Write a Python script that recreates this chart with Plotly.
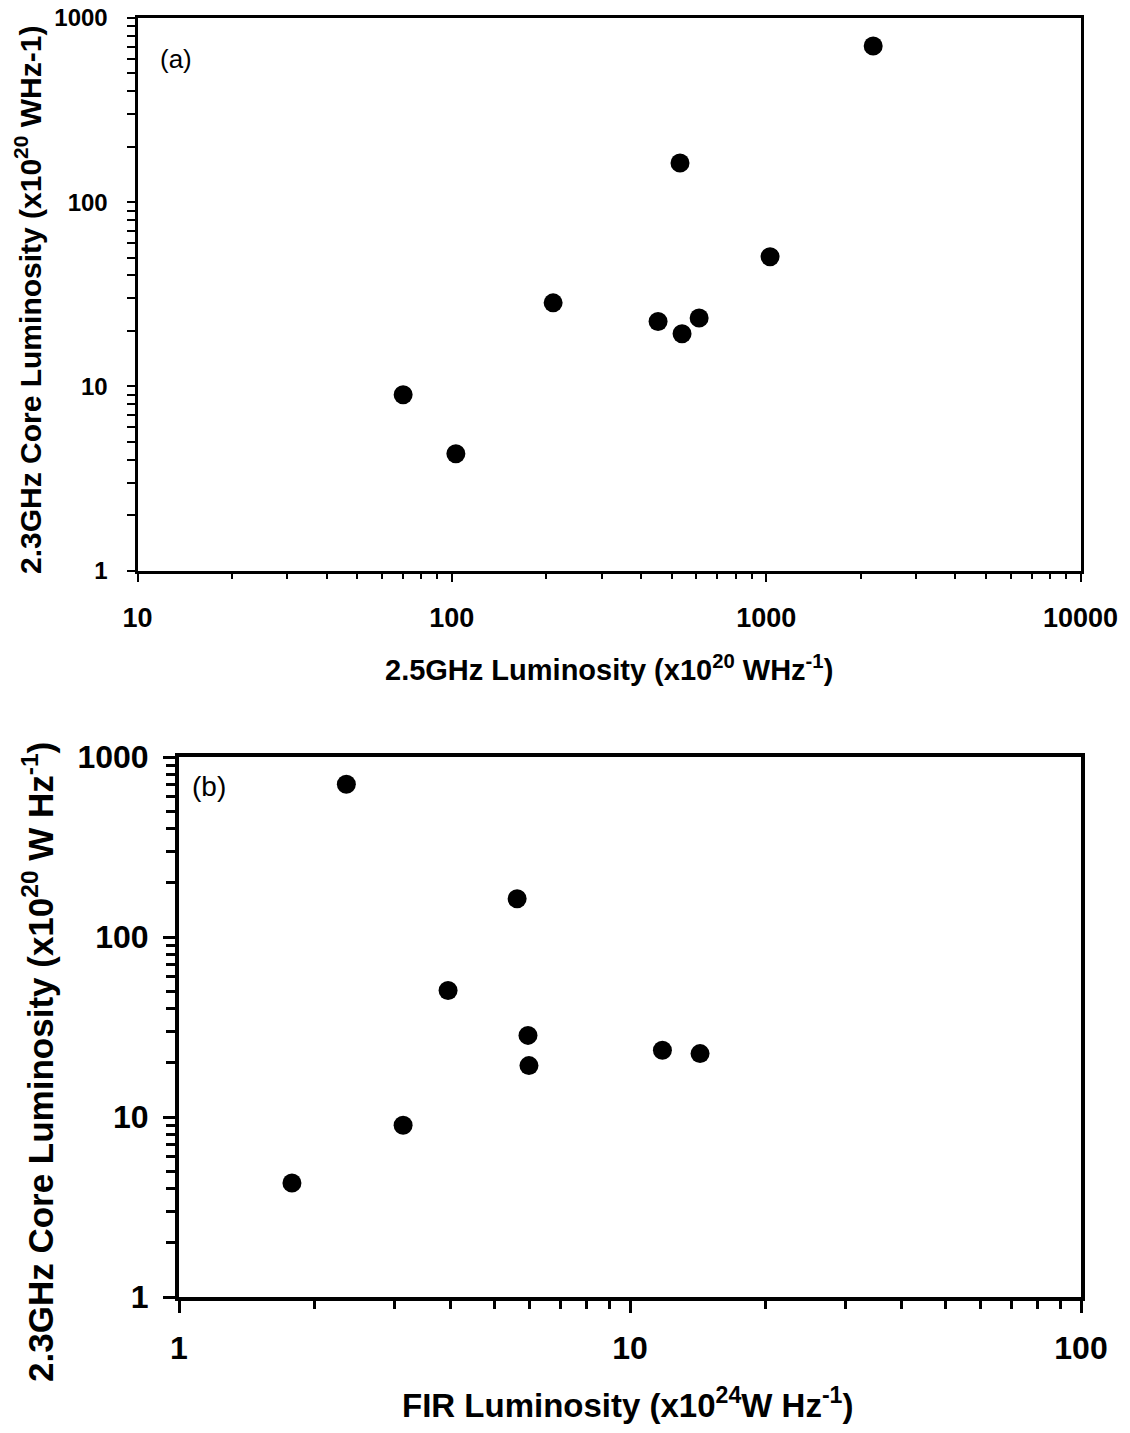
import plotly.graph_objects as go

# 2.3GHz core luminosity (x10^20 W/Hz), same sources in both panels
core_lum = [705, 163, 50.5, 28.4, 22.5, 23.5, 19.3, 9.0, 4.3]
# panel (a): 2.5GHz total luminosity (x10^20 W/Hz)
lum_25ghz = [2190, 532, 1029, 210, 453, 612, 540, 70, 103]
# panel (b): FIR luminosity (x10^24 W/Hz)
fir_lum = [2.35, 5.62, 3.95, 5.94, 14.3, 11.8, 5.97, 3.14, 1.78]

xticks_a = [10, 100, 1000, 10000]
xticks_b = [1, 10, 100]
yticks = [1, 10, 100, 1000]

# page has an 8px body margin, so the figure is a bit smaller than the window
W, H = 1114, 1417
OFF = 8
FONT = "Liberation Sans, Arial, sans-serif"


def px(x):
    return (x - OFF) / W


def py(y):
    return 1 - (y - OFF) / H


fig = go.Figure()
fig.add_trace(go.Scatter(x=lum_25ghz, y=core_lum, mode="markers",
                         marker=dict(color="black", size=19), xaxis="x", yaxis="y"))
fig.add_trace(go.Scatter(x=fir_lum, y=core_lum, mode="markers",
                         marker=dict(color="black", size=19), xaxis="x2", yaxis="y2"))


def log_axis(rng, ticks, domain, anchor, lw, tw, tl, mtl, fsize, standoff):
    return dict(type="log", range=rng, domain=domain, anchor=anchor,
                automargin=False,
                tickvals=ticks, ticktext=[str(t) for t in ticks],
                showline=True, mirror=True, linecolor="black", linewidth=lw,
                ticks="outside", ticklen=tl, tickwidth=tw, tickcolor="black",
                minor=dict(ticks="outside", ticklen=mtl, tickwidth=tw,
                           tickcolor="black", dtick="D1", showgrid=False),
                showgrid=False, zeroline=False,
                ticklabelstandoff=standoff, ticklabeloverflow="allow",
                tickfont=dict(family=FONT, size=fsize, color="black", weight="bold"))


fig.update_layout(
    width=W, height=H, autosize=False,
    template="none",
    margin=dict(l=0, r=0, t=0, b=0, autoexpand=False),
    paper_bgcolor="white", plot_bgcolor="white",
    showlegend=False,
    xaxis=log_axis([1, 4], xticks_a, [px(137.5), px(1080.5)], "y", 3, 1.5, 8, 5, 27, 13),
    yaxis=log_axis([0, 3], yticks, [py(570.5), py(18)], "x", 3, 1.5, 8, 8, 24, 14),
    xaxis2=log_axis([0, 2], xticks_b, [px(179), px(1081)], "y2", 4, 3, 12, 8, 32, 8),
    yaxis2=log_axis([0, 3], yticks, [py(1297), py(757)], "x2", 4, 3, 12, 9, 32, 8),
)

annots = [
    dict(text="(a)", x=px(176), y=py(59), size=26, weight="normal", angle=0),
    dict(text="(b)", x=px(209), y=py(786), size=28, weight="normal", angle=0),
    dict(text="2.5GHz Luminosity (x10<sup>20</sup> WHz<sup>-1</sup>)",
         x=px(609), y=py(668), size=29, weight="bold", angle=0),
    dict(text="2.3GHz Core Luminosity (x10<sup>20</sup> WHz-1)",
         x=px(28), y=py(300), size=30, weight="bold", angle=-90),
    dict(text="FIR Luminosity (x10<sup>24</sup>W Hz<sup>-1</sup>)",
         x=px(627), y=py(1403), size=33, weight="bold", angle=0),
    dict(text="2.3GHz Core Luminosity (x10<sup>20</sup> W Hz<sup>-1</sup>)",
         x=px(38), y=py(1062), size=35, weight="bold", angle=-90),
]
for a in annots:
    fig.add_annotation(text=a["text"], x=a["x"], y=a["y"], xref="paper", yref="paper",
                       xanchor="center", yanchor="middle", showarrow=False,
                       textangle=a["angle"],
                       font=dict(family=FONT, size=a["size"], color="black", weight=a["weight"]))

fig.write_html("out.html")
